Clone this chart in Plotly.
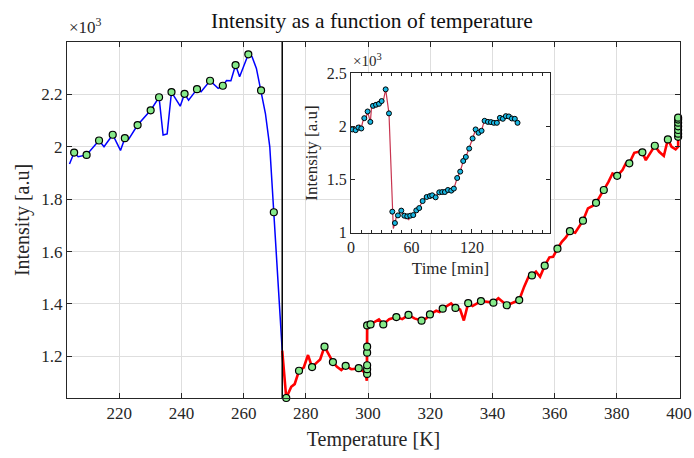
import plotly.graph_objects as go

# ---------------- main plot data (intensity in units of 1e3) ----------------
temp_blue = [204.0, 205.5, 206.8, 209.5, 213.5, 215.1, 217.9, 220.4, 221.8, 223.0,
             225.9, 230.1, 232.8, 234.1, 235.4, 236.8, 239.6, 241.0, 242.3, 245.0,
             246.3, 249.2, 251.8, 253.3, 254.5, 255.9, 257.4, 258.7, 261.5, 262.7,
             264.1, 265.6, 267.0, 268.4, 269.7, 272.4]
int_blue = [1.934, 1.978, 1.962, 1.969, 2.024, 2.000, 2.046, 1.986, 2.033, 2.028,
            2.083, 2.139, 2.189, 2.045, 2.049, 2.209, 2.155, 2.202, 2.178, 2.220,
            2.210, 2.252, 2.223, 2.233, 2.253, 2.252, 2.312, 2.267, 2.353, 2.344,
            2.299, 2.215, 2.127, 2.000, 1.750, 1.222]

temp_red = [272.4, 273.7, 275.3, 276.4, 277.8, 279.3, 280.7, 282.0, 283.4, 284.6,
            286.0, 288.7, 290.0, 291.4, 292.8, 294.6, 297.0, 299.2, 299.6, 299.7,
            300.8, 303.5, 304.9, 306.8, 309.1, 311.0, 313.0, 314.9, 317.2, 318.7,
            319.9, 321.9, 323.0, 324.0, 326.7, 328.1, 329.6, 330.8, 332.2, 333.6,
            336.3, 338.5, 340.3, 341.9, 344.6, 346.0, 348.6, 350.2, 351.6, 352.7,
            354.0, 355.3, 356.8, 358.3, 359.5, 360.9, 362.3, 363.6, 364.9, 366.6,
            369.1, 370.7, 372.2, 373.3, 375.8, 377.3, 378.6, 380.1, 381.8, 382.9,
            384.0, 385.6, 387.0, 388.2, 389.3, 392.2, 393.6, 395.1, 396.4, 397.6,
            398.9, 399.7, 399.7]
int_red = [1.222, 1.041, 1.084, 1.094, 1.145, 1.157, 1.205, 1.159, 1.175, 1.188,
           1.237, 1.178, 1.160, 1.148, 1.164, 1.151, 1.154, 1.137, 1.107, 1.318,
           1.322, 1.341, 1.322, 1.342, 1.350, 1.342, 1.358, 1.345, 1.336, 1.345,
           1.360, 1.374, 1.369, 1.382, 1.402, 1.385, 1.379, 1.337, 1.403, 1.392,
           1.411, 1.408, 1.405, 1.422, 1.395, 1.402, 1.415, 1.466, 1.504, 1.509,
           1.523, 1.504, 1.546, 1.578, 1.580, 1.611, 1.637, 1.654, 1.678, 1.672,
           1.718, 1.765, 1.774, 1.786, 1.835, 1.866, 1.898, 1.889, 1.911, 1.937,
           1.937, 1.977, 1.981, 1.979, 1.949, 2.004, 1.981, 1.965, 2.028, 2.000,
           1.990, 2.000, 2.111]

temp_marker = [205.5, 209.5, 213.5, 217.9, 221.8, 225.9, 230.1, 232.8, 236.8, 241.0,
               245.0, 249.2, 253.3, 257.4, 261.5, 265.6, 269.7, 273.7, 277.8, 282.0,
               286.0, 288.7, 292.8, 297.0, 299.7, 299.7, 299.7, 299.7, 299.7, 299.7,
               300.8, 304.9, 309.1, 313.0, 317.2, 319.9, 324.0, 328.1, 332.2, 336.3,
               340.3, 344.6, 348.6, 352.7, 356.8, 360.9, 364.9, 369.1, 373.3, 375.8,
               380.1, 384.0, 388.2, 392.2, 396.4, 399.7, 399.7, 399.7, 399.7, 399.7,
               399.7, 399.7]
int_marker = [1.978, 1.969, 2.024, 2.046, 2.033, 2.083, 2.139, 2.189, 2.209, 2.202,
              2.220, 2.252, 2.233, 2.312, 2.353, 2.215, 1.750, 1.041, 1.145, 1.159,
              1.237, 1.178, 1.164, 1.155, 1.133, 1.151, 1.166, 1.214, 1.237, 1.318,
              1.322, 1.322, 1.350, 1.358, 1.336, 1.360, 1.382, 1.385, 1.403, 1.411,
              1.405, 1.395, 1.415, 1.509, 1.546, 1.611, 1.678, 1.718, 1.786, 1.835,
              1.889, 1.937, 1.979, 2.004, 2.028, 2.038, 2.050, 2.064, 2.078, 2.092,
              2.104, 2.111]

vline_temp = 272.4

main_xticks = [220, 240, 260, 280, 300, 320, 340, 360, 380, 400]
main_yticks = [1.2, 1.4, 1.6, 1.8, 2.0, 2.2]
main_yticklabels = ["1.2", "1.4", "1.6", "1.8", "2", "2.2"]

# ---------------- inset data ----------------
time_line = [0.0, 1.3, 3.0, 4.6, 6.0, 7.3, 8.6, 10.2, 11.5, 13.2,
             14.6, 16.5, 17.6, 19.2, 20.4, 21.8, 23.0, 24.8, 26.2, 27.8,
             29.0, 30.4, 32.5, 34.4, 37.7, 41.0, 42.0, 43.6, 45.0, 46.6,
             48.2, 49.9, 51.3, 52.9, 54.4, 55.8, 57.2, 58.8, 60.2, 61.8,
             63.2, 64.8, 66.3, 67.7, 69.5, 71.1, 73.0, 75.1, 76.8, 78.3,
             80.6, 82.3, 84.0, 85.8, 87.6, 89.0, 90.5, 92.0, 93.2, 94.7,
             96.2, 97.9, 99.5, 100.8, 102.1, 105.4, 108.4, 111.4, 114.0, 117.3,
             120.7, 123.7, 125.2, 126.6, 128.0, 129.6, 131.0, 132.6, 135.9, 138.9,
             141.8, 144.8, 146.3, 147.8, 150.7, 152.2, 153.7, 156.7, 159.7, 162.6,
             165.3]
int_line_inset = [1.950, 1.972, 1.985, 1.965, 2.010, 1.990, 2.015, 1.981, 2.040, 2.078,
                  2.070, 2.141, 2.100, 2.043, 2.180, 2.194, 2.175, 2.204, 2.190, 2.213,
                  2.205, 2.239, 2.260, 2.349, 2.123, 1.198, 1.040, 1.091, 1.150, 1.163,
                  1.190, 1.208, 1.170, 1.160, 1.130, 1.154, 1.120, 1.160, 1.145, 1.166,
                  1.180, 1.210, 1.215, 1.232, 1.270, 1.298, 1.320, 1.336, 1.330, 1.345,
                  1.352, 1.340, 1.333, 1.365, 1.380, 1.370, 1.383, 1.378, 1.383, 1.395,
                  1.402, 1.390, 1.396, 1.405, 1.415, 1.515, 1.575, 1.675, 1.713, 1.792,
                  1.887, 1.972, 1.955, 1.940, 1.975, 1.959, 2.010, 2.053, 2.043, 2.041,
                  2.034, 2.034, 2.060, 2.081, 2.072, 2.090, 2.097, 2.094, 2.075, 2.072,
                  2.034]

time_marker = [1.3, 4.6, 7.3, 10.2, 13.2, 16.5, 19.2, 21.8, 24.8, 27.8,
               30.4, 34.4, 37.7, 41.0, 43.6, 46.6, 49.9, 52.9, 55.8, 58.8,
               61.8, 64.8, 67.7, 71.1, 75.1, 78.3, 80.6, 84.0, 87.6, 90.5,
               93.2, 96.2, 99.5, 102.1, 105.4, 108.4, 111.4, 114.0, 117.3, 120.7,
               123.7, 126.6, 129.6, 132.6, 135.9, 138.9, 141.8, 144.8, 147.8, 150.7,
               153.7, 156.7, 159.7, 162.6, 165.3]
int_marker_inset = [1.972, 1.965, 1.990, 1.981, 2.078, 2.141, 2.043, 2.194, 2.204, 2.213,
                    2.239, 2.349, 2.123, 1.198, 1.091, 1.163, 1.208, 1.160, 1.154, 1.160,
                    1.166, 1.210, 1.232, 1.298, 1.336, 1.345, 1.352, 1.333, 1.380, 1.383,
                    1.383, 1.402, 1.396, 1.415, 1.515, 1.575, 1.675, 1.713, 1.792, 1.887,
                    1.972, 1.940, 1.959, 2.053, 2.043, 2.041, 2.034, 2.034, 2.081, 2.072,
                    2.097, 2.094, 2.075, 2.072, 2.034]

inset_xticks = [0, 60, 120]
inset_yticks = [1, 1.5, 2, 2.5]
inset_yticklabels = ["1", "1.5", "2", "2.5"]

# ---------------- figure ----------------
FONT = "Liberation Serif"
AXC = "#262626"
GRID = "#dedede"

fig = go.Figure()
fig.add_trace(go.Scatter(x=temp_blue, y=int_blue, mode="lines",
                         line=dict(color="#0000ff", width=1.5), xaxis="x", yaxis="y"))
fig.add_trace(go.Scatter(x=temp_red, y=int_red, mode="lines",
                         line=dict(color="#ff0000", width=2.6), xaxis="x", yaxis="y"))
fig.add_trace(go.Scatter(x=temp_marker, y=int_marker, mode="markers",
                         marker=dict(color="#86ea8a", size=7, line=dict(color="black", width=1.2)),
                         cliponaxis=False, xaxis="x", yaxis="y"))
fig.add_trace(go.Scatter(x=time_line, y=int_line_inset, mode="lines",
                         line=dict(color="#c8344f", width=1.2), xaxis="x2", yaxis="y2"))
fig.add_trace(go.Scatter(x=time_marker, y=int_marker_inset, mode="markers",
                         marker=dict(color="#19b5e0", size=5, line=dict(color="black", width=1)),
                         xaxis="x2", yaxis="y2"))

fig.add_shape(type="line", xref="x", yref="paper", x0=vline_temp, x1=vline_temp,
              y0=0, y1=1, line=dict(color="black", width=1.5))

common = dict(showline=True, linecolor=AXC, linewidth=1, mirror="allticks",
              ticks="inside", tickcolor=AXC, zeroline=False, automargin=False,
              tickfont=dict(family=FONT, size=17, color=AXC))

fig.update_layout(
    width=694, height=458,
    margin=dict(l=67, r=14, t=42, b=60, autoexpand=False),
    paper_bgcolor="white", plot_bgcolor="white",
    showlegend=False,
    font=dict(family=FONT, color=AXC),
    title=dict(text="Intensity as a function of temperature", x=0.536, xanchor="center",
               y=0.955, yanchor="middle", font=dict(family=FONT, size=21.5, color="#111111")),
    xaxis=dict(domain=[0, 1], range=[203.2, 400.3], tickvals=main_xticks, ticklen=5,
               showgrid=True, gridcolor=GRID, gridwidth=1,
               title=dict(text="Temperature [K]", font=dict(family=FONT, size=20, color=AXC), standoff=9),
               **common),
    yaxis=dict(domain=[0, 1], range=[1.041, 2.4], tickvals=main_yticks, ticktext=main_yticklabels,
               ticklen=5, showgrid=True, gridcolor=GRID, gridwidth=1,
               title=dict(text="Intensity [a.u]", font=dict(family=FONT, size=20, color=AXC), standoff=6),
               **common),
    xaxis2=dict(domain=[0.4633, 0.7879], range=[0, 197.5], tickvals=inset_xticks, ticklen=4,
                anchor="y2", showgrid=False,
                minor=dict(dtick=10, tick0=0, ticks="inside", ticklen=2.5, tickcolor=AXC),
                title=dict(text="Time [min]", font=dict(family=FONT, size=17, color=AXC), standoff=7),
                **{**common, "tickfont": dict(family=FONT, size=16, color=AXC)}),
    yaxis2=dict(domain=[0.4643, 0.912], range=[1, 2.5], tickvals=inset_yticks,
                ticktext=inset_yticklabels, ticklen=4, anchor="x2", showgrid=False,
                title=dict(text="Intensity [a.u]", font=dict(family=FONT, size=17, color=AXC), standoff=4),
                **{**common, "tickfont": dict(family=FONT, size=16, color=AXC)}),
)

fig.add_annotation(text="×10<sup>3</sup>", xref="paper", yref="paper", x=0.0, y=1.0,
                   xanchor="left", yanchor="bottom", yshift=3, showarrow=False,
                   font=dict(family=FONT, size=17, color=AXC))
fig.add_annotation(text="×10<sup>3</sup>", xref="paper", yref="paper", x=0.4633, y=0.912,
                   xanchor="left", yanchor="bottom", yshift=2, showarrow=False,
                   font=dict(family=FONT, size=15, color=AXC))

fig.write_html("out.html")
